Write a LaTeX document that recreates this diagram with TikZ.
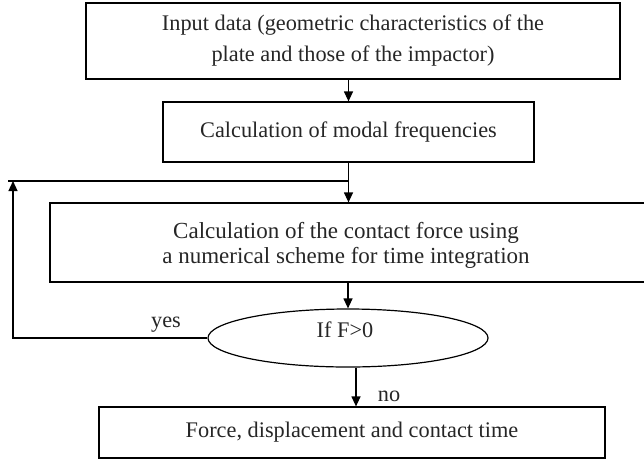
\documentclass[tikz,border=0pt]{standalone}
\usepackage{fontspec}
\setmainfont{Liberation Serif}
\usetikzlibrary{arrows.meta,shapes.geometric,calc}
\begin{document}
\begin{tikzpicture}[x=1pt,y=-1pt,
  every node/.style={font=\fontsize{22.3}{24}\selectfont, text=black!85},
  stepbox/.style={draw, line width=1.2pt, rectangle, inner sep=0pt, align=center},
  decision/.style={draw, line width=1.2pt, ellipse, inner sep=0pt,
                   minimum width=280pt, minimum height=58pt},
  conn/.style={line width=1.2pt},
  arr/.style={conn, -{Triangle[length=10pt,width=9pt]}},
  tag/.style={inner sep=0pt, anchor=base},
]
\useasboundingbox (0,0) rectangle (644,461);

% process boxes
\node[stepbox, minimum width=534pt, minimum height=76pt,
      font=\fontsize{22.3}{31}\selectfont] (input) at (353,41)
  {Input data (geometric characteristics of the\\plate and those of the impactor)};
\node[stepbox, minimum width=371pt, minimum height=60pt] (modal) at (348.5,132)
  {Calculation of modal frequencies};
\node[stepbox, minimum width=597pt, minimum height=79pt] (force) at (348.5,242.5) {};
\node[inner sep=0pt, align=center, font=\fontsize{23}{24.5}\selectfont]
  (forcetext) at (346,245.5)
  {Calculation of the contact force using\\a numerical scheme for time integration};
\node[decision] (test) at (348,338) {};
\node[tag] (testlabel) at (345,337) {If F>0};
\node[stepbox, minimum width=506pt, minimum height=51pt] (result) at (352,432.5)
  {Force, displacement and contact time};

% loop-back geometry
\coordinate (loopend) at (8,181);
\coordinate (loopup) at (13,181);
\coordinate (loopcorner) at (13,338);
\coordinate (join) at (348,181);

% main flow
\draw[arr] (modal.north |- input.south) -- (modal.north);
\draw[arr] (modal.south) -- (modal.south |- force.north);
\draw[arr] (test.north |- force.south) -- (test.north);
\draw[arr] ([xshift=8pt]test.south) -- ([xshift=8pt]test.south |- result.north);

% feedback while F>0
\draw[conn] (loopend) -- (join);
\draw[arr] (test.west) -- (loopcorner) -- (loopup);

% branch labels
\node[tag] (yes) at (166,327) {yes};
\node[tag] (no) at (389,401) {no};
\end{tikzpicture}
\end{document}
